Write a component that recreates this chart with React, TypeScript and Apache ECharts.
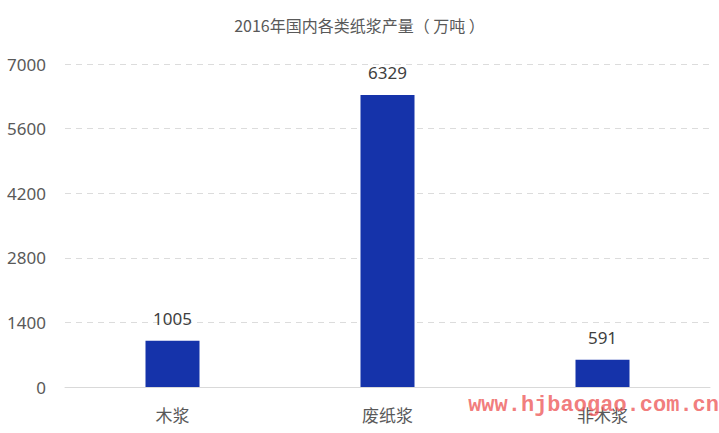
import React, { useEffect, useRef } from "react";
import * as echarts from "echarts";

const categories = ["木浆", "废纸浆", "非木浆"];
const values = [1005, 6329, 591];
const yTicks = [0, 1400, 2800, 4200, 5600, 7000];
const titleText = "2016年国内各类纸浆产量（ 万吨 ）";
const watermark = "www.hjbaogao.com.cn";

export default function App() {
  const ref = useRef<HTMLDivElement>(null);
  useEffect(() => {
    const chart = echarts.init(ref.current!, null, { renderer: "svg" });
    chart.setOption({
      animation: false,
      backgroundColor: "#ffffff",
      title: {
        text: titleText,
        left: "center",
        top: 12,
        textStyle: { fontSize: 16, fontWeight: "normal", color: "#595959", fontFamily: "Noto Sans CJK SC" },
      },
      grid: { left: 65, right: 9, top: 64, bottom: 46 },
      xAxis: {
        type: "category",
        data: categories,
        axisLine: { lineStyle: { color: "#d9d9d9" } },
        axisTick: { show: false },
        axisLabel: { fontSize: 17, color: "#595959", margin: 19, fontFamily: "Noto Sans CJK SC" },
      },
      yAxis: {
        type: "value",
        min: yTicks[0],
        max: yTicks[yTicks.length - 1],
        interval: 1400,
        axisLine: { show: false },
        axisTick: { show: false },
        axisLabel: {
          fontSize: 17,
          color: "#595959",
          margin: 19,
          fontFamily: "Noto Sans",
          formatter: (v: number) => String(v),
        },
        splitLine: { lineStyle: { color: "#dcdcdc", type: [6, 5] } },
      },
      series: [
        {
          type: "bar",
          data: values,
          barWidth: 54,
          itemStyle: { color: "#1533aa" },
          label: {
            show: true,
            position: "top",
            distance: 14,
            fontSize: 17,
            color: "#404040",
            fontFamily: "Noto Sans",
          },
        },
      ],
      graphic: [
        {
          type: "text",
          right: 0,
          top: 394,
          z: 100,
          style: {
            text: watermark,
            fontSize: 22,
            fontWeight: "bold",
            fontFamily: "Liberation Mono",
            fill: "rgba(238,90,90,0.8)",
          },
        },
      ],
    });
    return () => chart.dispose();
  }, []);
  return <div ref={ref} style={{ width: 719, height: 433, position: "absolute", left: 0, top: 0 }} />;
}
